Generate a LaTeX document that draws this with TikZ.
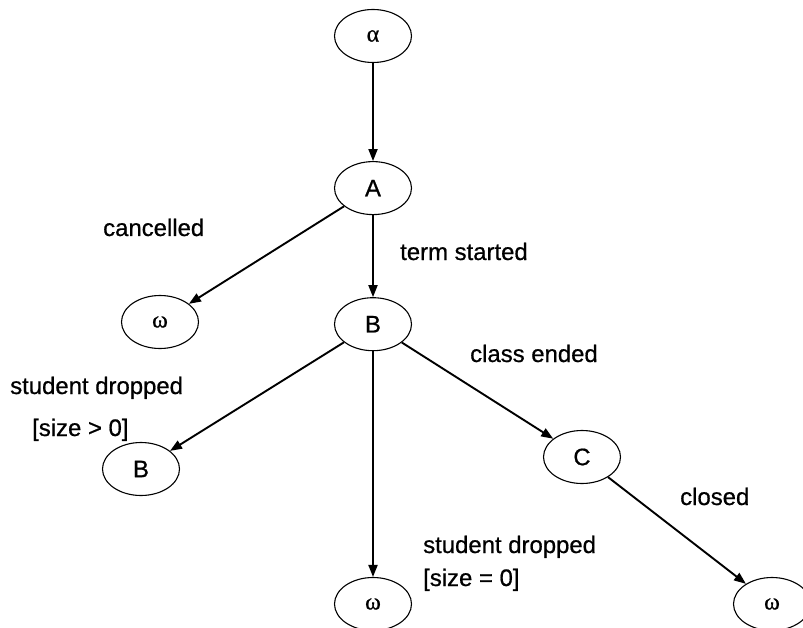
\documentclass[tikz,border=0pt]{standalone}
\usepackage{fontspec}
\setmainfont{Liberation Sans}[FakeBold=0.7]
\newfontfamily\greekfont{Liberation Serif}[FakeBold=0.7]
\usetikzlibrary{arrows.meta,positioning,shapes.geometric}

\begin{document}
\begin{tikzpicture}[
    x=1bp, y=-1bp,
    >={Triangle[length=12bp,width=9bp]},
    state/.style={draw, ellipse, line width=1.1bp, minimum width=77bp, minimum height=53bp, inner sep=0pt, font=\fontsize{24}{28}\selectfont},
    trans/.style={->, line width=1.9bp},
    guard/.style={font=\fontsize{24}{28}\selectfont, inner sep=0pt, anchor=base west},
]
\useasboundingbox (0,0) rectangle (803,628);

% states
\node[state] (start) at (373,36) {\greekfont α};
\node[state, below=98bp of start] (A) {A};
\node[state, below=82bp of A] (B) {B};
\node[state] (endA) at (160,322) {\greekfont ω};
\node[state] (B2) at (141,469) {B};
\node[state] (C) at (582,457) {C};
\node[state] (endB) at (373,604) {\greekfont ω};
\node[state] (endC) at (772,604) {\greekfont ω};

% transitions
\draw[trans] (start) -- (A);
\draw[trans] (A) -- (endA);
\draw[trans] (A) -- (B);
\draw[trans] (B) -- (B2);
\draw[trans] (B) -- (endB);
\draw[trans] (B) -- (C);
\draw[trans] (C) -- (endC);

% event labels
\node[guard] (lcancel) at (103,236) {cancelled};
\node[guard] (lterm) at (400,260) {term started};
\node[guard] (lclass) at (470,362) {class ended};
\node[guard] (lclosed) at (680,505) {closed};
\node[guard] (ldrop1) at (10,394) {student dropped};
\node[guard] (lsize1) at (32,436) {[size > 0]};
\node[guard] (ldrop2) at (423,553) {student dropped};
\node[guard] (lsize2) at (423,586) {[size = 0]};

\end{tikzpicture}
\end{document}
